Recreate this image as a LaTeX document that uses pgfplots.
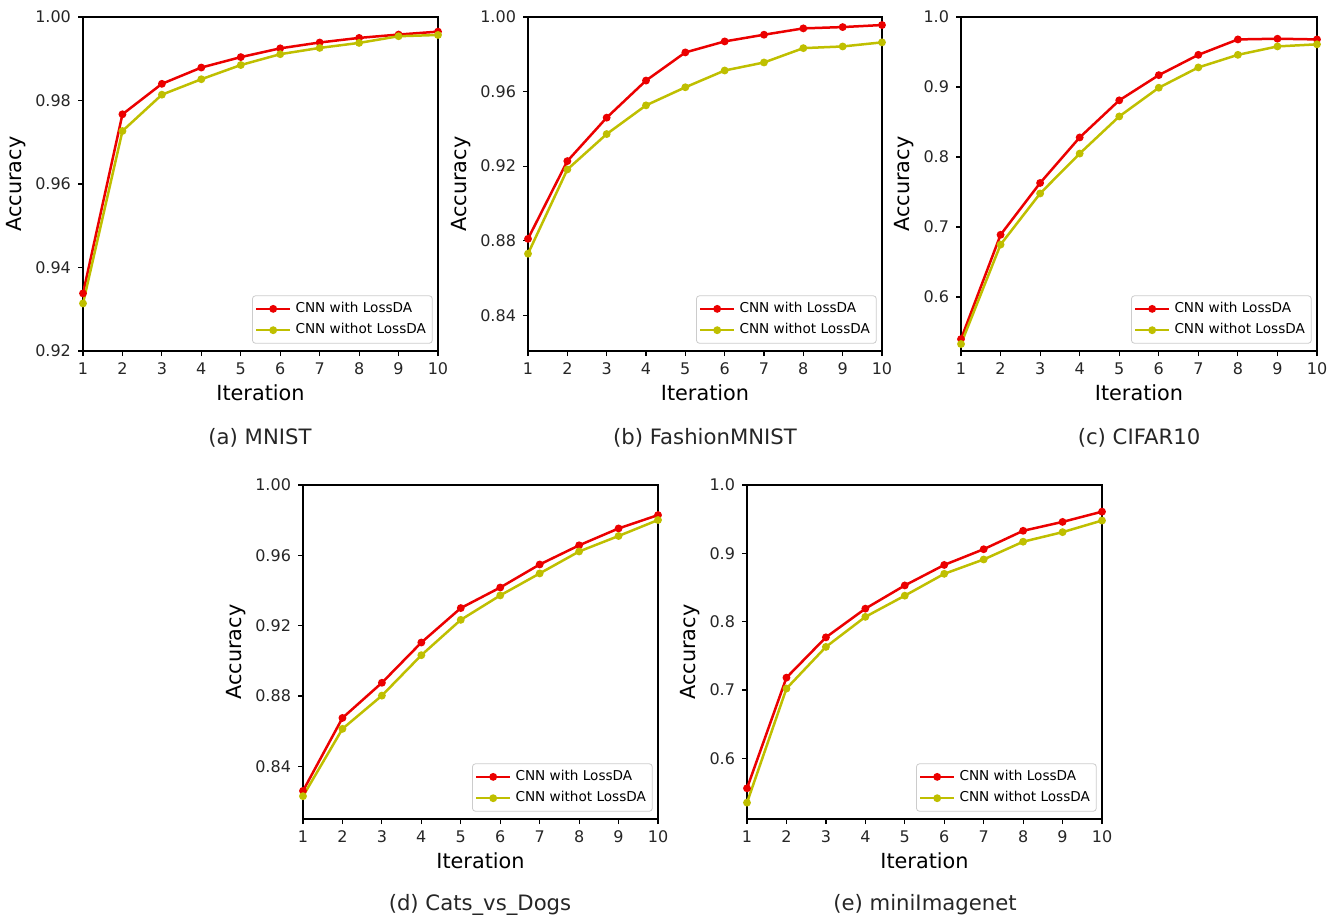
\documentclass[border=0pt]{standalone}
\usepackage{fontspec}
\setmainfont{DejaVu Sans}
\usepackage{pgfplots}
\pgfplotsset{compat=1.18}

\definecolor{cred}{RGB}{235,0,0}
\definecolor{cyel}{RGB}{191,191,0}

\pgfplotsset{
  acc/.style={
    scale only axis,
    width=177.5pt, height=167pt,
    anchor=south west,
    xmin=1, xmax=10,
    xtick={1,...,10},
    tick align=outside,
    tick pos=left,
    major tick length=2.5pt,
    axis line style={line width=0.7pt},
    every tick/.style={black, line width=0.6pt},
    /pgf/number format/assume math mode=true,
    tick label style={font=\fontsize{8}{9}\selectfont, text=black!85},
    xlabel={Iteration},
    ylabel={Accuracy},
    label style={font=\fontsize{10.4}{12}\selectfont},
    xlabel style={yshift=2pt},
    ylabel style={yshift=-2pt},
    legend style={
      at={(0.985,0.022)}, anchor=south east,
      font=\fontsize{6.8}{8}\selectfont,
      draw=black!20, rounded corners=1.5pt,
      inner sep=1.2pt, row sep=0pt,
      cells={anchor=west},
    },
    legend cell align=left,
  },
  red line/.style={color=cred, line width=1.25pt, mark=*, mark size=1.3pt},
  yel line/.style={color=cyel, line width=1.25pt, mark=*, mark size=1.3pt},
}

\begin{document}
\begin{tikzpicture}
\useasboundingbox (0,0) rectangle (668pt,-461.5pt);

% (a) MNIST
\begin{axis}[acc, at={(41.5pt,-175.5pt)},
  ymin=0.92, ymax=1.00, ytick={0.92,0.94,...,1.00},
  yticklabel style={/pgf/number format/.cd, fixed, fixed zerofill, precision=2}]
\addplot[red line] coordinates {
(1,0.9338) (2,0.9767) (3,0.9840) (4,0.9879) (5,0.9904)
(6,0.9925) (7,0.9939) (8,0.9950) (9,0.9958) (10,0.9965)};
\addlegendentry{CNN with LossDA}
\addplot[yel line] coordinates {
(1,0.9314) (2,0.9727) (3,0.9814) (4,0.9851) (5,0.9885)
(6,0.9911) (7,0.9926) (8,0.9938) (9,0.9954) (10,0.9957)};
\addlegendentry{CNN withot LossDA}
\end{axis}

% (b) FashionMNIST
\begin{axis}[acc, at={(264pt,-175.5pt)}, width=177pt,
  ymin=0.8208, ymax=1.00, ytick={0.84,0.88,...,1.00},
  yticklabel style={/pgf/number format/.cd, fixed, fixed zerofill, precision=2}]
\addplot[red line] coordinates {
(1,0.8810) (2,0.9227) (3,0.9460) (4,0.9659) (5,0.9810)
(6,0.9869) (7,0.9905) (8,0.9939) (9,0.9946) (10,0.9957)};
\addlegendentry{CNN with LossDA}
\addplot[yel line] coordinates {
(1,0.8730) (2,0.9182) (3,0.9372) (4,0.9526) (5,0.9623)
(6,0.9713) (7,0.9756) (8,0.9833) (9,0.9842) (10,0.9864)};
\addlegendentry{CNN withot LossDA}
\end{axis}

% (c) CIFAR10
\begin{axis}[acc, at={(480.5pt,-175.5pt)}, width=178pt,
  ymin=0.523, ymax=1.0, ytick={0.6,0.7,...,1.0},
  yticklabel style={/pgf/number format/.cd, fixed, fixed zerofill, precision=1}]
\addplot[red line] coordinates {
(1,0.540) (2,0.689) (3,0.763) (4,0.828) (5,0.881)
(6,0.917) (7,0.946) (8,0.968) (9,0.969) (10,0.968)};
\addlegendentry{CNN with LossDA}
\addplot[yel line] coordinates {
(1,0.533) (2,0.675) (3,0.748) (4,0.805) (5,0.858)
(6,0.899) (7,0.928) (8,0.946) (9,0.958) (10,0.961)};
\addlegendentry{CNN withot LossDA}
\end{axis}

% (d) Cats_vs_Dogs
\begin{axis}[acc, at={(151.5pt,-409.5pt)},
  ymin=0.810, ymax=1.00, ytick={0.84,0.88,...,1.00},
  yticklabel style={/pgf/number format/.cd, fixed, fixed zerofill, precision=2}]
\addplot[red line] coordinates {
(1,0.826) (2,0.8675) (3,0.8875) (4,0.9104) (5,0.9300)
(6,0.9417) (7,0.9548) (8,0.9657) (9,0.9753) (10,0.9829)};
\addlegendentry{CNN with LossDA}
\addplot[yel line] coordinates {
(1,0.823) (2,0.8613) (3,0.8802) (4,0.9032) (5,0.9233)
(6,0.9372) (7,0.9497) (8,0.9622) (9,0.9710) (10,0.9801)};
\addlegendentry{CNN withot LossDA}
\end{axis}

% (e) miniImagenet
\begin{axis}[acc, at={(373.5pt,-409.5pt)},
  ymin=0.511, ymax=1.0, ytick={0.6,0.7,...,1.0},
  yticklabel style={/pgf/number format/.cd, fixed, fixed zerofill, precision=1}]
\addplot[red line] coordinates {
(1,0.556) (2,0.718) (3,0.777) (4,0.819) (5,0.853)
(6,0.883) (7,0.906) (8,0.933) (9,0.946) (10,0.961)};
\addlegendentry{CNN with LossDA}
\addplot[yel line] coordinates {
(1,0.535) (2,0.702) (3,0.763) (4,0.807) (5,0.838)
(6,0.870) (7,0.891) (8,0.917) (9,0.931) (10,0.948)};
\addlegendentry{CNN withot LossDA}
\end{axis}

\begin{scope}[every node/.style={font=\fontsize{10.6}{12}\selectfont, text=black!85}]
\node at (130pt,-219pt) {(a) MNIST};
\node at (352.5pt,-219pt) {(b) FashionMNIST};
\node at (569.5pt,-219pt) {(c) CIFAR10};
\node at (240pt,-452.5pt) {(d) Cats\_vs\_Dogs};
\node at (462.5pt,-452.5pt) {(e) miniImagenet};
\end{scope}
\end{tikzpicture}
\end{document}
